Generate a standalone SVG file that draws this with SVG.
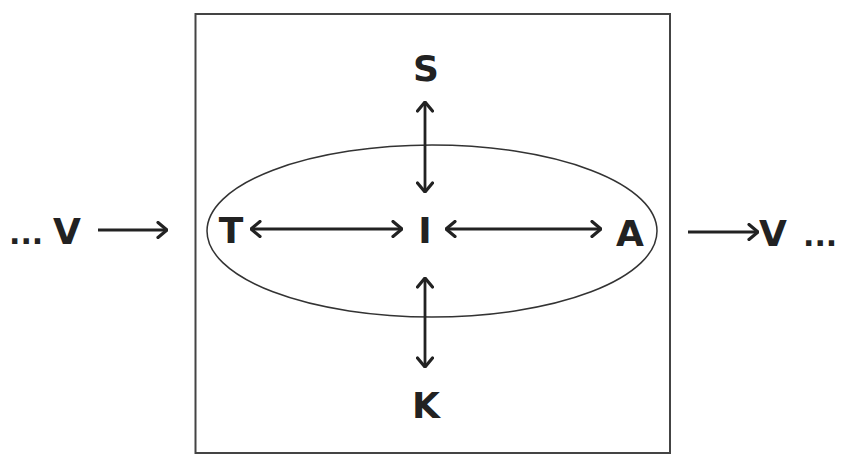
<svg xmlns="http://www.w3.org/2000/svg" width="842" height="456" viewBox="0 0 842 456">
<style>
.t{font-family:"DejaVu Sans","Verdana",sans-serif;font-weight:bold;font-size:36px;fill:#222}
.d{font-size:30px}
.c{stroke:#222;stroke-width:2.8;fill:none}
</style>
<defs>
<marker id="ah" viewBox="0 0 12 18" refX="11" refY="9" markerWidth="12" markerHeight="18" markerUnits="userSpaceOnUse" orient="auto-start-reverse">
<polyline points="2,1.5 11,9 2,16.5" fill="none" stroke="#222" stroke-width="3.2" stroke-linecap="round" stroke-linejoin="round"/>
</marker>
</defs>
<rect width="842" height="456" fill="#fff"/>
<g id="box"><rect x="195.5" y="14" width="474.5" height="439" fill="none" stroke="#444" stroke-width="2"/></g>
<g id="ellipse"><ellipse cx="432" cy="231" rx="225" ry="86" fill="none" stroke="#333" stroke-width="1.5"/></g>
<g id="connectors">
<line class="c" x1="98" y1="230" x2="167" y2="230" marker-end="url(#ah)"/>
<line class="c" x1="688" y1="232" x2="758" y2="232" marker-end="url(#ah)"/>
<line class="c" x1="251" y1="229" x2="402" y2="229" marker-start="url(#ah)" marker-end="url(#ah)"/>
<line class="c" x1="446" y1="229" x2="601" y2="229" marker-start="url(#ah)" marker-end="url(#ah)"/>
<line class="c" x1="425" y1="102" x2="425" y2="192" marker-start="url(#ah)" marker-end="url(#ah)"/>
<line class="c" x1="425" y1="278" x2="425" y2="367" marker-start="url(#ah)" marker-end="url(#ah)"/>
</g>
<g id="in"><text class="t" y="244"><tspan class="d" x="9">...</tspan><tspan x="53">V</tspan></text></g>
<g id="out"><text class="t" y="246"><tspan x="759">V</tspan><tspan class="d" x="803">...</tspan></text></g>
<g id="S"><text class="t" x="426" y="81" text-anchor="middle">S</text></g>
<g id="I"><text class="t" x="425" y="243" text-anchor="middle">I</text></g>
<g id="T"><text class="t" x="231" y="243" text-anchor="middle">T</text></g>
<g id="A"><text class="t" x="630" y="246" text-anchor="middle">A</text></g>
<g id="K"><text class="t" x="426" y="418" text-anchor="middle">K</text></g>
</svg>
